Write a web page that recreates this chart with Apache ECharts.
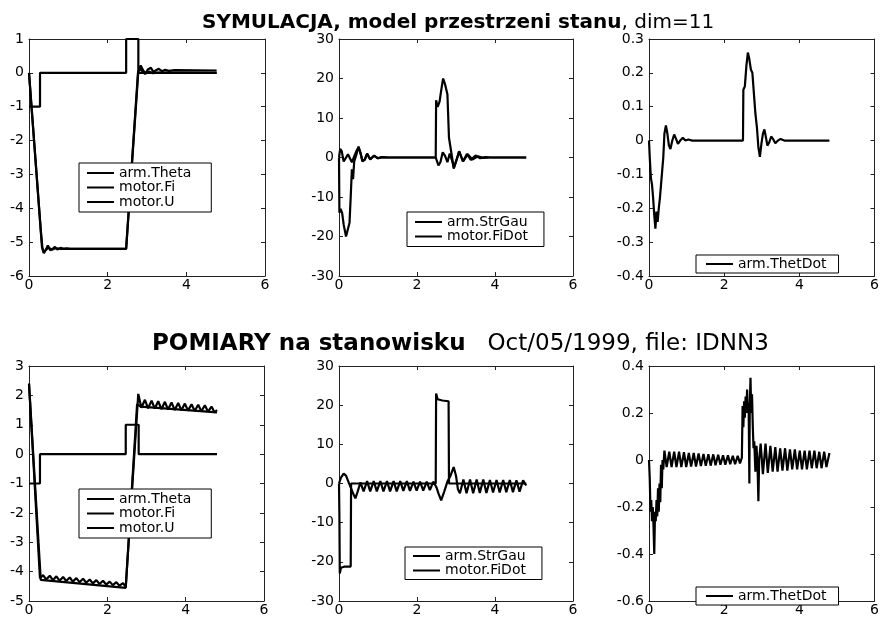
<!DOCTYPE html>
<html>
<head>
<meta charset="utf-8">
<script src="https://cdn.jsdelivr.net/npm/echarts@6/dist/echarts.min.js"></script>
<style>
  html, body { margin: 0; padding: 0; background: #fff; }
  #chart { width: 882px; height: 617px; }
</style>
</head>
<body>
<div id="chart"></div>
<script>
// ---- Simulation (state-space model, dim=11) ----
const simTheta = [[0,0],[0.1,-1.55],[0.2,-3.1],[0.3,-4.65],[0.34,-5.15],[0.38,-5.33],[0.43,-5.22],[0.48,-5.1],[0.54,-5.24],[0.6,-5.2],[0.66,-5.14],[0.72,-5.22],[0.8,-5.17],[0.88,-5.2],[0.95,-5.18],[1.05,-5.2],[2.47,-5.19],[2.78,0.05],[2.84,0.22],[2.9,0.08],[2.96,-0.02],[3.02,0.1],[3.1,0.15],[3.16,0.03],[3.22,0.07],[3.3,0.12],[3.38,0.05],[3.46,0.09],[3.56,0.06],[3.7,0.08],[4.77,0.07]];
const simFi = [[0,0],[0.33,-5.15],[0.37,-5.3],[0.42,-5.24],[0.5,-5.16],[0.58,-5.22],[0.68,-5.18],[0.8,-5.2],[2.47,-5.2],[2.77,0.0],[2.82,0.12],[2.88,0.05],[2.95,-0.03],[3.05,0.04],[3.15,-0.01],[3.3,0.01],[4.77,0.0]];
const simU = [[0,-1],[0.28,-1],[0.28,0],[2.47,0],[2.47,1],[2.78,1],[2.78,0],[4.77,0]];

const simStrGau = [[0,0],[0.03,2.2],[0.07,1.6],[0.12,-1.0],[0.17,-1.3],[0.23,0.8],[0.28,0.6],[0.33,-1.2],[0.38,-0.8],[0.44,1.5],[0.5,2.6],[0.55,1.2],[0.6,-0.8],[0.66,-0.6],[0.72,0.9],[0.8,-0.4],[0.9,0.4],[1.0,-0.2],[1.1,0.1],[1.25,0],[2.48,0],[2.55,-2.0],[2.6,-1.2],[2.66,1.3],[2.72,0.4],[2.78,-1.2],[2.84,1.0],[2.9,-0.8],[2.95,-2.5],[3.02,-0.5],[3.08,1.6],[3.18,-1.0],[3.28,0.9],[3.38,-0.6],[3.5,0.5],[3.62,-0.2],[3.75,0.1],[3.9,0],[4.8,0]];
const simFiDot = [[0,0],[0.01,-14],[0.04,-13],[0.08,-14],[0.12,-17],[0.18,-20],[0.22,-19.5],[0.27,-16.5],[0.3,-10],[0.33,-3],[0.36,-5.5],[0.39,-1],[0.44,0.5],[0.5,2.8],[0.56,0.8],[0.6,-1],[0.66,-0.5],[0.72,1.0],[0.8,-0.5],[0.9,0.5],[1.0,-0.2],[1.1,0.1],[1.25,0],[2.48,0],[2.49,14.5],[2.53,12.8],[2.58,14.2],[2.62,17],[2.67,20],[2.72,18.5],[2.78,16],[2.82,5],[2.86,4.6],[2.9,0],[2.94,-2.8],[3.0,-1],[3.08,1.5],[3.18,-1.0],[3.3,0.8],[3.42,-0.5],[3.56,0.3],[3.7,-0.1],[3.85,0],[4.8,0]];

const simThetDot = [[0,0],[0.02,-0.05],[0.05,-0.11],[0.08,-0.13],[0.11,-0.17],[0.14,-0.22],[0.17,-0.26],[0.2,-0.21],[0.23,-0.24],[0.26,-0.2],[0.29,-0.17],[0.32,-0.13],[0.35,-0.09],[0.38,-0.05],[0.41,0.02],[0.45,0.045],[0.49,0.02],[0.53,-0.015],[0.57,-0.025],[0.62,0.0],[0.67,0.018],[0.72,0.005],[0.77,-0.01],[0.83,0.0],[0.9,0.008],[0.97,0.0],[1.05,0.003],[1.15,0],[2.5,0],[2.51,0.15],[2.55,0.16],[2.59,0.22],[2.63,0.26],[2.67,0.24],[2.71,0.21],[2.75,0.2],[2.79,0.14],[2.83,0.08],[2.87,0.04],[2.91,-0.02],[2.95,-0.048],[2.99,-0.01],[3.03,0.02],[3.07,0.033],[3.11,0.01],[3.15,-0.015],[3.2,-0.005],[3.25,0.012],[3.3,0.005],[3.36,-0.008],[3.43,0.0],[3.5,0.005],[3.6,0],[4.8,0]];

// ---- Measurements (test stand, Oct/05/1999, file IDNN3) ----
const measTheta = [[0,2.4],[0.28,-4.22],[0.36,-4.12],[0.44,-4.27],[0.53,-4.14],[0.61,-4.29],[0.7,-4.16],[0.78,-4.31],[0.87,-4.18],[0.95,-4.32],[1.04,-4.2],[1.12,-4.34],[1.21,-4.22],[1.29,-4.36],[1.38,-4.24],[1.46,-4.38],[1.55,-4.27],[1.63,-4.4],[1.72,-4.29],[1.8,-4.42],[1.89,-4.31],[1.97,-4.44],[2.06,-4.34],[2.14,-4.46],[2.23,-4.36],[2.31,-4.48],[2.4,-4.39],[2.47,-4.52],[2.79,2.05],[2.87,1.58],[2.96,1.85],[3.04,1.56],[3.13,1.82],[3.21,1.55],[3.3,1.8],[3.38,1.53],[3.47,1.78],[3.55,1.52],[3.64,1.76],[3.72,1.5],[3.81,1.74],[3.89,1.49],[3.98,1.72],[4.06,1.48],[4.15,1.7],[4.23,1.47],[4.32,1.68],[4.4,1.46],[4.49,1.66],[4.57,1.45],[4.66,1.62],[4.74,1.42],[4.8,1.5]];
const measFi = [[0,2.4],[0.3,-4.28],[2.47,-4.55],[2.76,1.7],[2.85,1.62],[4.8,1.42]];
const measU = [[0,-1],[0.28,-1],[0.28,0],[2.47,0],[2.47,1],[2.8,1],[2.8,0],[4.8,0]];

const measStrGau = [[0,0],[0.05,1.5],[0.12,2.5],[0.18,2.0],[0.24,0.5],[0.3,-1.0],[0.36,-2.5],[0.42,-3.8],[0.48,-2.0],[0.55,0.3],[0.63,-2.0],[0.72,0.6],[0.8,-2.0],[0.89,0.6],[0.97,-2.0],[1.06,0.6],[1.14,-2.0],[1.23,0.6],[1.31,-2.0],[1.4,0.6],[1.48,-2.0],[1.57,0.6],[1.65,-1.9],[1.74,0.6],[1.82,-1.9],[1.91,0.5],[1.99,-1.8],[2.08,0.5],[2.16,-1.8],[2.25,0.5],[2.33,-1.7],[2.42,0.5],[2.5,-1.0],[2.55,-2.5],[2.62,-4.3],[2.7,-2.0],[2.78,0.5],[2.86,2.0],[2.94,4.2],[3.0,2.0],[3.05,-1.5],[3.1,-2.5],[3.19,1.0],[3.27,-2.5],[3.36,1.0],[3.44,-2.5],[3.53,1.0],[3.61,-2.4],[3.7,1.0],[3.78,-2.4],[3.87,0.9],[3.95,-2.3],[4.04,0.9],[4.12,-2.3],[4.21,0.9],[4.29,-2.2],[4.38,0.9],[4.46,-2.2],[4.55,0.8],[4.63,-2.1],[4.72,0.8],[4.8,-0.5]];
const measFiDot = [[0,0],[0.01,-8],[0.02,-23],[0.05,-21.5],[0.15,-21.2],[0.3,-21.2],[0.31,0],[2.48,0],[2.49,23],[2.53,21.5],[2.65,21.2],[2.81,21],[2.82,0],[4.8,0]];

const measThetDot = [[0,0],[0.02,-0.08],[0.04,-0.22],[0.06,-0.17],[0.08,-0.26],[0.1,-0.2],[0.12,-0.28],[0.14,-0.4],[0.16,-0.22],[0.18,-0.26],[0.2,-0.17],[0.22,-0.24],[0.24,-0.12],[0.26,-0.22],[0.28,-0.1],[0.3,-0.18],[0.32,-0.02],[0.34,-0.12],[0.36,0.0],[0.38,-0.04],[0.41,0.04],[0.47,-0.03],[0.54,0.035],[0.6,-0.03],[0.67,0.035],[0.73,-0.03],[0.8,0.035],[0.86,-0.03],[0.93,0.033],[0.99,-0.03],[1.06,0.03],[1.12,-0.028],[1.19,0.03],[1.25,-0.028],[1.32,0.028],[1.38,-0.026],[1.45,0.026],[1.51,-0.025],[1.58,0.025],[1.64,-0.024],[1.71,0.024],[1.77,-0.022],[1.84,0.022],[1.9,-0.02],[1.97,0.02],[2.03,-0.02],[2.1,0.02],[2.16,-0.018],[2.23,0.018],[2.29,-0.018],[2.36,0.018],[2.42,-0.015],[2.47,0.01],[2.49,0.23],[2.51,0.14],[2.53,0.25],[2.55,0.18],[2.57,0.27],[2.59,0.2],[2.61,0.3],[2.63,0.2],[2.65,0.24],[2.67,-0.1],[2.68,0.22],[2.7,0.35],[2.72,0.2],[2.74,0.28],[2.76,0.15],[2.78,0.05],[2.8,0.08],[2.83,-0.05],[2.86,0.06],[2.89,-0.04],[2.91,-0.175],[2.93,0.0],[2.97,0.07],[3.03,-0.06],[3.1,0.07],[3.16,-0.055],[3.23,0.06],[3.29,-0.05],[3.36,0.055],[3.42,-0.05],[3.49,0.05],[3.55,-0.045],[3.62,0.05],[3.68,-0.045],[3.75,0.045],[3.81,-0.04],[3.88,0.045],[3.94,-0.04],[4.01,0.04],[4.07,-0.04],[4.14,0.04],[4.2,-0.04],[4.27,0.04],[4.33,-0.035],[4.4,0.04],[4.46,-0.035],[4.53,0.035],[4.59,-0.035],[4.66,0.035],[4.72,-0.03],[4.8,0.03]];

// axis ranges per panel: [yMin, yMax, yInterval]
const yRanges = [[-6,1,1],[-30,30,10],[-0.4,0.3,0.1],[-5,3,1],[-30,30,10],[-0.6,0.4,0.2]];
const xRange = [0, 6, 2];

const titleTop = ['SYMULACJA, model przestrzeni stanu', ', dim=11'];
const titleBottom = ['POMIARY na stanowisku', '   Oct/05/1999, file: IDNN3'];

// panel boxes [left, top, width, height]
const boxes = [
  [29, 39, 236, 237], [339, 39, 234, 237], [649, 39, 235, 237],
  [29, 366, 235, 235], [339, 366, 234, 235], [649, 366, 235, 235]
];

const FONT = 'DejaVu Sans';
const INK = '#000';
// plain line used as legend key
const KEY_ICON = 'path://M0,0 L27,0 L27,2 L0,2 Z';

const grids = boxes.map(b => ({ left: b[0], top: b[1], width: b[2], height: b[3], containLabel: false }));

const xAxes = [], yAxes = [];
boxes.forEach((b, i) => {
  const common = {
    gridIndex: i, type: 'value',
    axisLine: { show: true, onZero: false, lineStyle: { color: '#222', width: 1 } },
    axisTick: { show: true, inside: true, length: 4, lineStyle: { color: '#222' } },
    splitLine: { show: false }
  };
  xAxes.push(Object.assign({}, common, {
    position: 'bottom', min: xRange[0], max: xRange[1], interval: xRange[2],
    axisLabel: { color: INK, fontFamily: FONT, fontSize: 14, margin: 2 }
  }));
  yAxes.push(Object.assign({}, common, {
    position: 'left', min: yRanges[i][0], max: yRanges[i][1], interval: yRanges[i][2],
    axisLabel: { color: INK, fontFamily: FONT, fontSize: 14, margin: 5 }
  }));
});
boxes.forEach((b, i) => {
  const common = {
    gridIndex: i, type: 'value',
    axisLine: { show: true, onZero: false, lineStyle: { color: '#222', width: 1 } },
    axisTick: { show: true, inside: true, length: 4, lineStyle: { color: '#222' } },
    axisLabel: { show: false },
    splitLine: { show: false }
  };
  xAxes.push(Object.assign({}, common, { position: 'top', min: xRange[0], max: xRange[1], interval: xRange[2] }));
  yAxes.push(Object.assign({}, common, { position: 'right', min: yRanges[i][0], max: yRanges[i][1], interval: yRanges[i][2] }));
});

function line(name, data, panel) {
  return {
    name: name, type: 'line', data: data,
    xAxisIndex: panel, yAxisIndex: panel,
    symbol: 'none', animation: false,
    lineStyle: { color: INK, width: 2.2 },
    itemStyle: { color: INK }
  };
}

const series = [
  line('arm.Theta', simTheta, 0), line('motor.Fi', simFi, 0), line('motor.U', simU, 0),
  line('arm.StrGau', simStrGau, 1), line('motor.FiDot', simFiDot, 1),
  line('arm.ThetDot', simThetDot, 2),
  line('arm.Theta', measTheta, 3), line('motor.Fi', measFi, 3), line('motor.U', measU, 3),
  line('arm.StrGau', measStrGau, 4), line('motor.FiDot', measFiDot, 4),
  line('arm.ThetDot', measThetDot, 5)
];

function legend(names, left, top, padding) {
  return {
    data: names, left: left, top: top, orient: 'vertical',
    icon: KEY_ICON,
    backgroundColor: '#fff', borderColor: '#000', borderWidth: 1,
    padding: padding, itemWidth: 27, itemHeight: 14, itemGap: 0.5,
    selectedMode: false,
    textStyle: { color: INK, fontFamily: FONT, fontSize: 14, lineHeight: 14 }
  };
}

const legends = [
  legend(['arm.Theta', 'motor.Fi', 'motor.U'], 79, 163, [3, 20, 3, 8]),
  legend(['arm.StrGau', 'motor.FiDot'], 407, 212, [3, 16, 3, 8]),
  legend(['arm.ThetDot'], 696, 255, [2, 12, 2, 10]),
  legend(['arm.Theta', 'motor.Fi', 'motor.U'], 79, 489, [3, 20, 3, 8]),
  legend(['arm.StrGau', 'motor.FiDot'], 405, 547, [2, 16, 2, 8]),
  legend(['arm.ThetDot'], 696, 587, [2, 12, 2, 10])
];

const richTop = {
  b: { fontFamily: FONT, fontSize: 20, fontWeight: 'bold', color: INK },
  r: { fontFamily: FONT, fontSize: 20, fontWeight: 'normal', color: INK }
};
const richBottom = {
  b: { fontFamily: FONT, fontSize: 23, fontWeight: 'bold', color: INK },
  r: { fontFamily: FONT, fontSize: 23, fontWeight: 'normal', color: INK }
};

const option = {
  backgroundColor: '#fff',
  animation: false,
  title: [
    { text: '{b|' + titleTop[0] + '}{r|' + titleTop[1] + '}', left: 202, top: 13, padding: 0, textStyle: { rich: richTop } },
    { text: '{b|' + titleBottom[0] + '}{r|' + titleBottom[1] + '}', left: 152, top: 333, padding: 0, textStyle: { rich: richBottom } }
  ],
  grid: grids,
  xAxis: xAxes,
  yAxis: yAxes,
  legend: legends,
  series: series
};

const chart = echarts.init(document.getElementById('chart'), null, { renderer: 'canvas' });
chart.setOption(option);
</script>
</body>
</html>
